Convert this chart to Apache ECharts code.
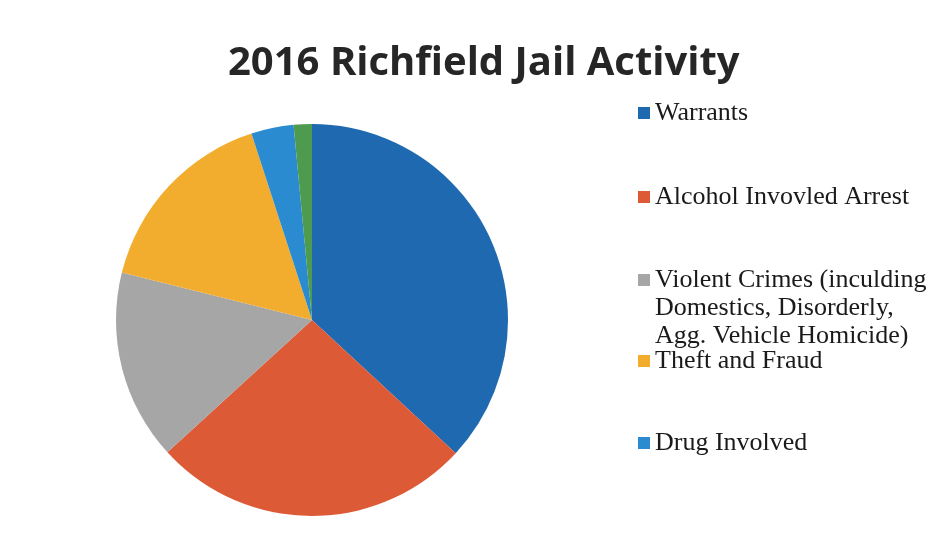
<!DOCTYPE html>
<html>
<head>
<meta charset="utf-8">
<script src="https://cdn.jsdelivr.net/npm/echarts@6/dist/echarts.min.js"></script>
<style>html,body{margin:0;padding:0;background:#fff;}#chart{width:940px;height:541px;}</style>
</head>
<body>
<div id="chart"></div>
<script>
const titleText = '2016 Richfield Jail Activity';
const categories = [
  'Warrants',
  'Alcohol Invovled Arrest',
  'Violent Crimes (inculding\nDomestics, Disorderly,\nAgg. Vehicle Homicide)',
  'Theft and Fraud',
  'Drug Involved',
  'Other'
];
const shares = [36.9, 26.3, 15.7, 16.1, 3.5, 1.5];
const colors = ['#1f69b0', '#dd5a36', '#a6a6a6', '#f3ad2e', '#2a8bd0', '#4e9a4e'];
const legendNames = categories.slice(0, 5);
const legendTops = [99, 183, 266, 347, 429];

const chart = echarts.init(document.getElementById('chart'), null, {renderer: 'canvas'});
const legendBase = {
  orient: 'vertical', left: 638, padding: 0, itemWidth: 12, itemHeight: 12,
  icon: 'rect', selectedMode: false, itemGap: 0,
  textStyle: {fontFamily: 'Liberation Serif', fontSize: 26, color: '#1a1a1a', lineHeight: 28}
};
chart.setOption({
  animation: false,
  backgroundColor: '#ffffff',
  title: {
    text: titleText, left: 228, top: 44, padding: 0,
    textStyle: {fontFamily: 'Open Sans', fontWeight: 'bold', fontSize: 40, color: '#262626'}
  },
  legend: legendNames.map((n, i) => {
    const l = Object.assign({}, legendBase, {data: [n], top: legendTops[i]});
    if (i === 2) {
      // square at the top of a tall icon box so the marker sits on the first text line
      l.itemHeight = 68;
      l.icon = 'path://M0,0H12V12H0Z M0,68H0.01V68.01H0Z';
    }
    return l;
  }),
  series: [{
    type: 'pie',
    center: [312, 320],
    radius: 196,
    startAngle: 90,
    clockwise: true,
    label: {show: false},
    labelLine: {show: false},
    silent: true,
    itemStyle: {borderWidth: 0},
    data: categories.map((c, i) => ({name: c, value: shares[i], itemStyle: {color: colors[i]}}))
  }]
});
</script>
</body>
</html>
